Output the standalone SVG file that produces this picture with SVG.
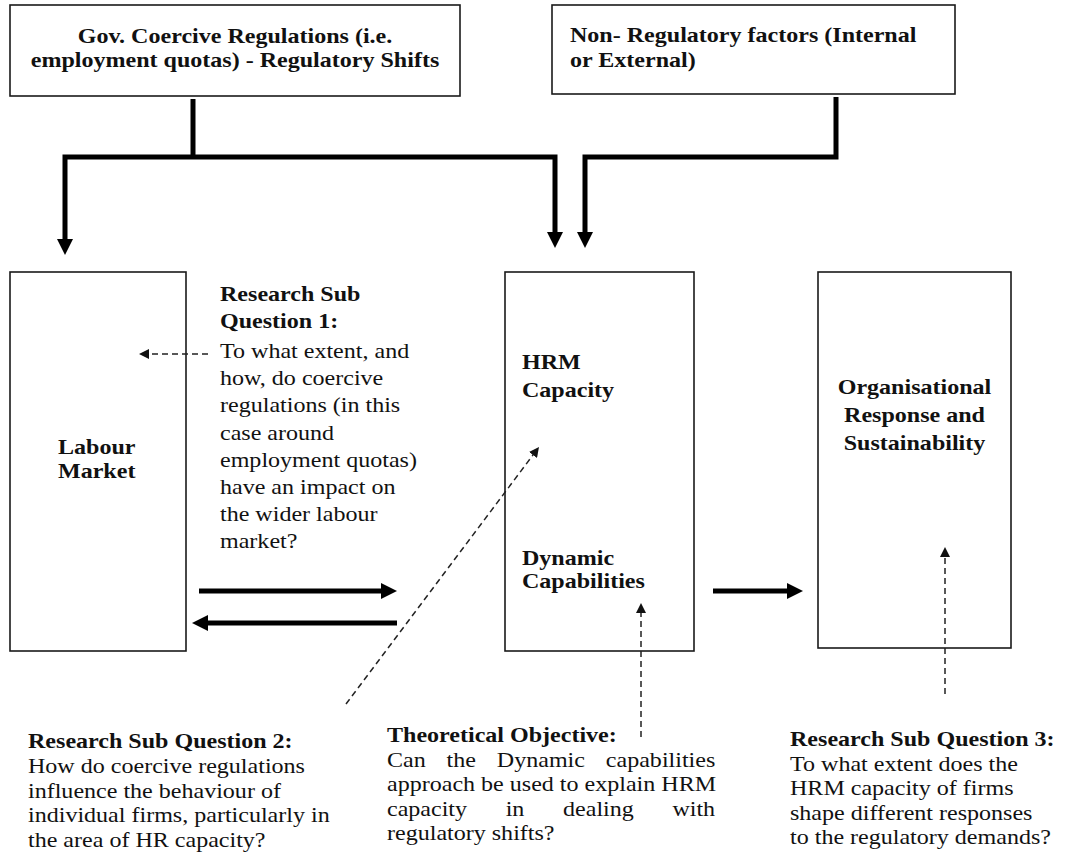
<svg xmlns="http://www.w3.org/2000/svg" width="1065" height="863" viewBox="0 0 1065 863">
<defs>
<style>
.box{fill:#fff;stroke:#1a1a1a;stroke-width:1.6}
.t{font-family:"Liberation Serif","Times New Roman",serif;font-size:21px;fill:#111}
.b{font-weight:bold}
.thick{fill:none;stroke:#000;stroke-width:5;stroke-linejoin:miter}
.dash{fill:none;stroke:#222;stroke-width:1.5;stroke-dasharray:6 4}
</style>
<marker id="ah" markerUnits="userSpaceOnUse" markerWidth="16" markerHeight="16" refX="2" refY="8" orient="auto">
<path d="M0,0 L16,8 L0,16 z" fill="#000"/>
</marker>
<marker id="dh" markerUnits="userSpaceOnUse" markerWidth="10" markerHeight="10" refX="1" refY="5" orient="auto">
<path d="M0,0 L10,5 L0,10 z" fill="#111"/>
</marker>
</defs>
<rect width="1065" height="863" fill="#fff"/>

<g id="gov">
<rect class="box" x="10" y="5" width="450" height="91"/>
<g transform="translate(235,0) scale(1.145,1)">
<text class="t b" text-anchor="middle" x="0" y="43">Gov. Coercive Regulations (i.e.</text>
<text class="t b" text-anchor="middle" x="0" y="67">employment quotas) - Regulatory Shifts</text>
</g>
</g>

<g id="nonreg">
<rect class="box" x="552" y="5" width="403" height="89"/>
<g transform="translate(570,0) scale(1.145,1)">
<text class="t b" x="0" y="42">Non- Regulatory factors (Internal</text>
<text class="t b" x="0" y="67">or External)</text>
</g>
</g>

<g id="labour">
<rect class="box" x="10" y="272" width="176" height="379"/>
<g transform="translate(58,0) scale(1.145,1)">
<text class="t b" x="0" y="454">Labour</text>
<text class="t b" x="0" y="478">Market</text>
</g>
</g>

<g id="hrm">
<rect class="box" x="505" y="272" width="189" height="379"/>
<g transform="translate(522,0) scale(1.145,1)">
<text class="t b" x="0" y="369">HRM</text>
<text class="t b" x="0" y="397">Capacity</text>
<text class="t b" x="0" y="565">Dynamic</text>
<text class="t b" x="0" y="588">Capabilities</text>
</g>
</g>

<g id="org">
<rect class="box" x="818" y="272" width="193" height="376"/>
<g transform="translate(914.5,0) scale(1.145,1)">
<text class="t b" text-anchor="middle" x="0" y="394">Organisational</text>
<text class="t b" text-anchor="middle" x="0" y="422">Response and</text>
<text class="t b" text-anchor="middle" x="0" y="450">Sustainability</text>
</g>
</g>

<g id="rsq1">
<g transform="translate(220,0) scale(1.145,1)">
<text class="t b" x="0" y="301">Research Sub</text>
<text class="t b" x="0" y="328">Question 1:</text>
<text class="t" x="0" y="358">To what extent, and</text>
<text class="t" x="0" y="385">how, do coercive</text>
<text class="t" x="0" y="412">regulations (in this</text>
<text class="t" x="0" y="440">case around</text>
<text class="t" x="0" y="467">employment quotas)</text>
<text class="t" x="0" y="494">have an impact on</text>
<text class="t" x="0" y="521">the wider labour</text>
<text class="t" x="0" y="548">market?</text>
</g>
</g>

<g id="rsq2">
<g transform="translate(28,0) scale(1.145,1)">
<text class="t b" x="0" y="748">Research Sub Question 2:</text>
<text class="t" x="0" y="773">How do coercive regulations</text>
<text class="t" x="0" y="798">influence the behaviour of</text>
<text class="t" x="0" y="822">individual firms, particularly in</text>
<text class="t" x="0" y="847">the area of HR capacity?</text>
</g>
</g>

<g id="theory">
<g transform="translate(387,0) scale(1.145,1)">
<text class="t b" x="0" y="742">Theoretical Objective:</text>
<text class="t" x="0" y="767" word-spacing="13">Can the Dynamic capabilities</text>
<text class="t" x="0" y="791">approach be used to explain HRM</text>
<text class="t" x="0" y="816" word-spacing="28.5">capacity in dealing with</text>
<text class="t" x="0" y="840">regulatory shifts?</text>
</g>
</g>

<g id="rsq3">
<g transform="translate(790,0) scale(1.145,1)">
<text class="t b" x="0" y="746">Research Sub Question 3:</text>
<text class="t" x="0" y="771">To what extent does the</text>
<text class="t" x="0" y="795">HRM capacity of firms</text>
<text class="t" x="0" y="820">shape different responses</text>
<text class="t" x="0" y="844">to the regulatory demands?</text>
</g>
</g>

<g id="connectors">
<path class="thick" d="M193,99 V157"/>
<path class="thick" d="M193,157 H65 V241" marker-end="url(#ah)"/>
<path class="thick" d="M193,157 H555 V234" marker-end="url(#ah)"/>
<path class="thick" d="M836,97 V157 H585 V234" marker-end="url(#ah)"/>
<path class="thick" d="M199,591 H383" marker-end="url(#ah)"/>
<path class="thick" d="M397,623 H206" marker-end="url(#ah)"/>
<path class="thick" d="M713,591 H789" marker-end="url(#ah)"/>
<path class="dash" d="M208,354 H148" marker-end="url(#dh)"/>
<path class="dash" d="M346,704 L533.6,454.2" marker-end="url(#dh)"/>
<path class="dash" d="M641,737 V612" marker-end="url(#dh)"/>
<path class="dash" d="M945,694 V556" marker-end="url(#dh)"/>
</g>
</svg>
